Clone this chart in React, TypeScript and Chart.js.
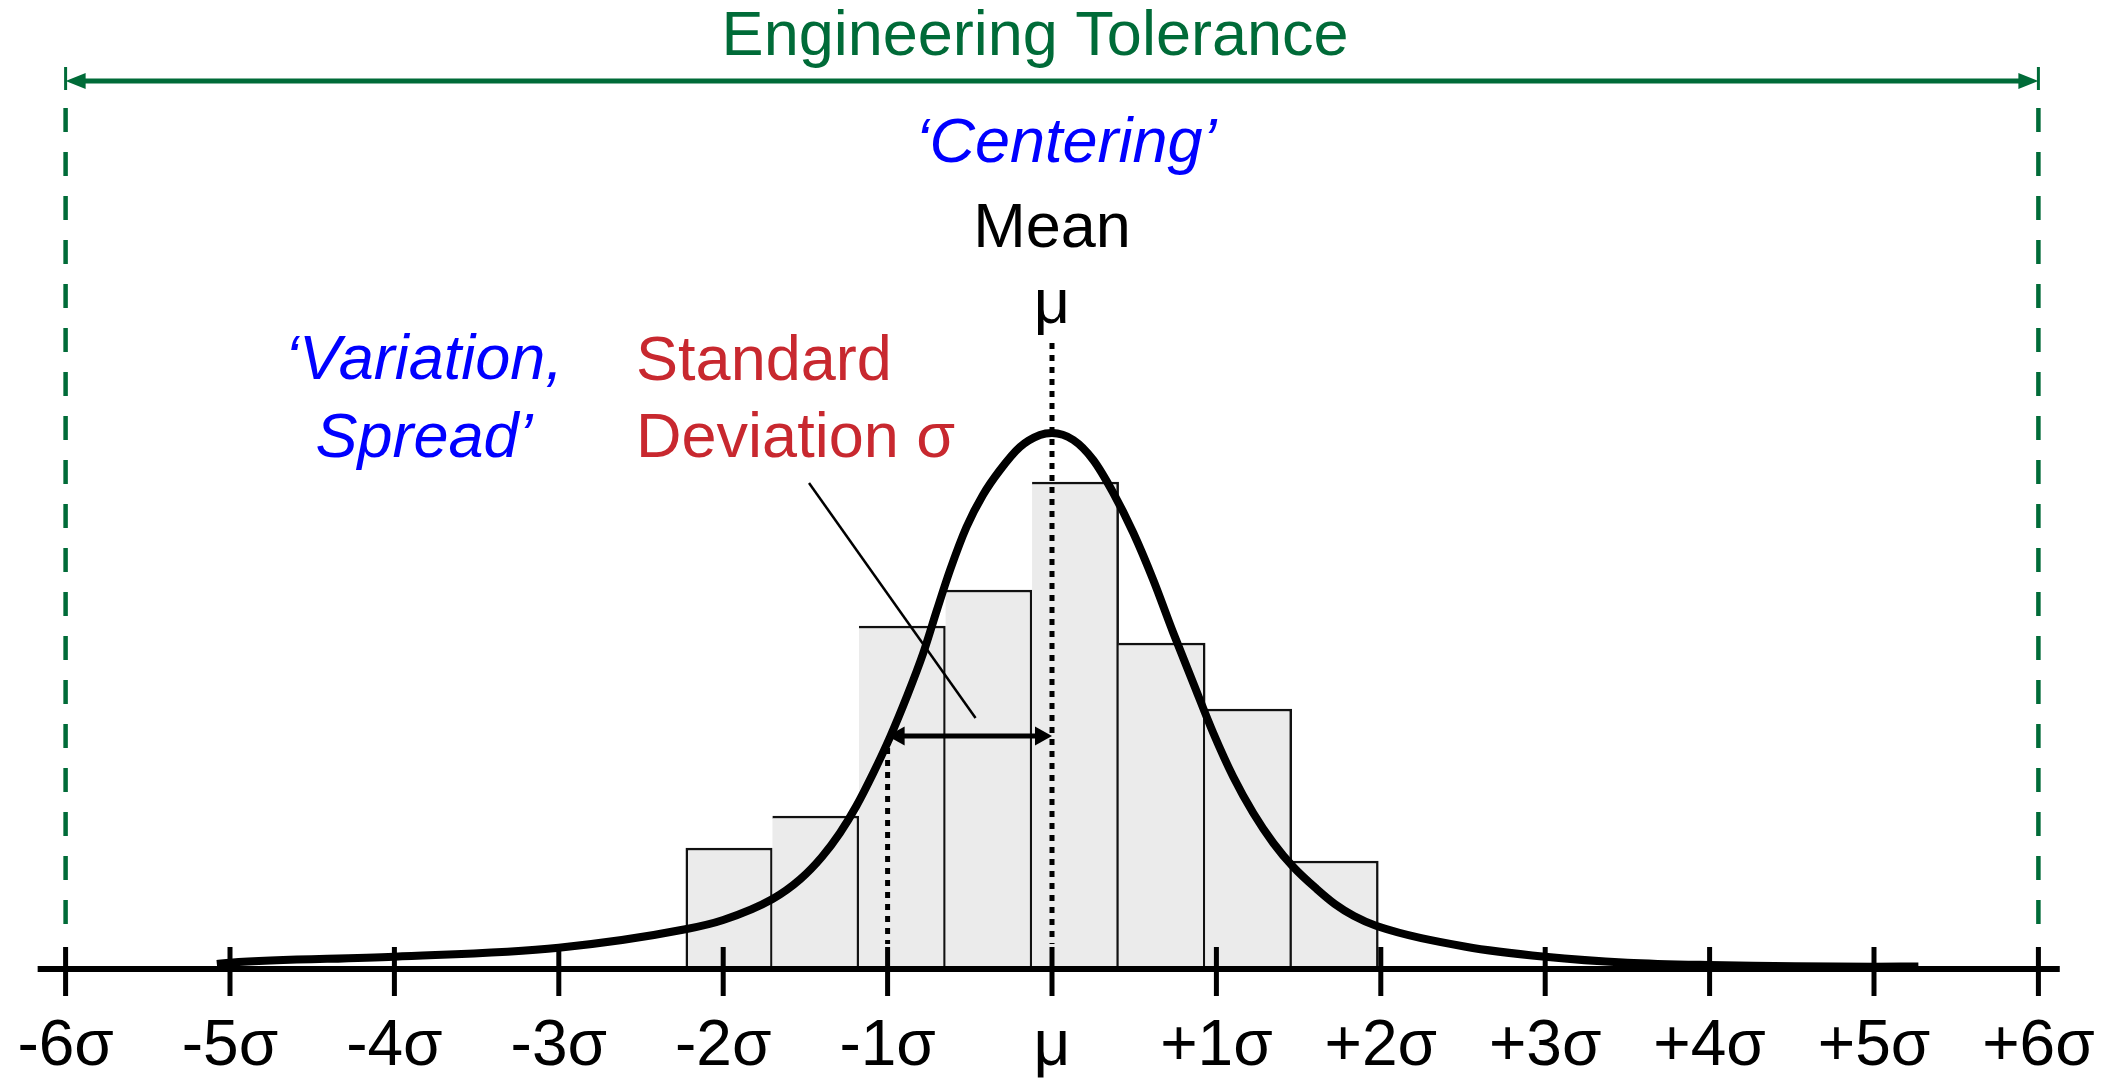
import React, { useEffect, useRef } from "react";
import { Chart, registerables } from "chart.js";

Chart.register(...registerables);

// ---- data (x in units of sigma, y in histogram counts) ----
const SIGMA_TICKS = [-6, -5, -4, -3, -2, -1, 0, 1, 2, 3, 4, 5, 6];
const BIN_CENTERS = [-1.964, -1.4375, -0.911, -0.3845, 0.142, 0.6685, 1.195, 1.7215];
const BIN_COUNTS = [12.1, 15.3, 34.3, 37.9, 48.7, 32.6, 26.0, 10.8];
const CURVE_X = [
  -5.08, -5.0, -4.0, -3.0, -2.23, -2.0, -1.7, -1.53, -1.4, -1.29, -1.19, -1.087, -0.985, -0.884,
  -0.783, -0.7, -0.62, -0.52, -0.42, -0.316, -0.195, -0.073, 0, 0.13, 0.251, 0.373, 0.495,
  0.616, 0.738, 0.859, 0.981, 1.103, 1.224, 1.346, 1.468, 1.61, 1.72, 1.837, 1.975, 2.517, 3.0,
  3.5, 4.0, 5.0, 5.27,
];
const CURVE_Y = [
  0.5, 0.63, 1.23, 2.13, 3.97, 4.9, 7.0, 9.0, 11.2, 13.6, 16.3, 19.6, 23.2, 27.2,
  31.6, 35.9, 39.9, 44.2, 47.4, 49.9, 52.2, 53.4, 53.6, 52.9, 50.9, 47.6, 43.6,
  38.9, 33.6, 28.6, 23.6, 19.2, 15.6, 12.6, 10.2, 8.0, 6.5, 5.3, 4.3, 2.23, 1.23,
  0.63, 0.4, 0.23, 0.25,
];
const TOLERANCE_LIMITS = [-6, 6];
const MEAN = 0;
const ONE_SIGMA = -1;

const FONT = "'Liberation Sans', Arial, Helvetica, sans-serif";
const GREEN = "#006B38";
const BLUE = "#0000FF";
const RED = "#C8282F";

const annotationPlugin = {
  id: "sixSigmaAnnotations",
  afterDatasetsDraw(chart: any) {
    const { ctx } = chart;
    const xs = chart.scales.x;
    const ys = chart.scales.y;
    const px = (v: number) => xs.getPixelForValue(v);
    const py = (v: number) => ys.getPixelForValue(v);

    const arrowHead = (tx: number, ty: number, dir: number, len: number, half: number, color: string) => {
      ctx.fillStyle = color;
      ctx.beginPath();
      ctx.moveTo(tx, ty);
      ctx.lineTo(tx - dir * len, ty - half);
      ctx.lineTo(tx - dir * len, ty + half);
      ctx.closePath();
      ctx.fill();
    };
    const line = (x1: number, y1: number, x2: number, y2: number, w: number, color: string, dash: number[] = []) => {
      ctx.save();
      ctx.strokeStyle = color;
      ctx.lineWidth = w;
      ctx.lineCap = "butt";
      ctx.setLineDash(dash);
      ctx.beginPath();
      ctx.moveTo(x1, y1);
      ctx.lineTo(x2, y2);
      ctx.stroke();
      ctx.restore();
    };
    const text = (s: string, xv: number, yv: number, align: CanvasTextAlign, font: string, color: string) => {
      ctx.save();
      ctx.font = font;
      ctx.fillStyle = color;
      ctx.textAlign = align;
      ctx.textBaseline = "alphabetic";
      ctx.fillText(s, px(xv), py(yv));
      ctx.restore();
    };

    ctx.save();

    // horizontal sigma axis with crossing tick marks
    const y0 = py(0);
    line(px(-6.17), y0, px(6.13), y0, 6, "#000");
    SIGMA_TICKS.forEach((t) => line(px(t), py(2.2), px(t), py(-2.7), 5, "#000"));

    // engineering tolerance limits (green dashed) and arrow
    TOLERANCE_LIMITS.forEach((t) => {
      line(px(t), py(86.1), px(t), py(3.9), 4.5, GREEN, [24, 20]);
      line(px(t), py(90.2), px(t), py(87.9), 3, GREEN);
    });
    const ay = py(88.8);
    line(px(TOLERANCE_LIMITS[0]) + 10, ay, px(TOLERANCE_LIMITS[1]) - 10, ay, 5, GREEN);
    arrowHead(px(TOLERANCE_LIMITS[0]), ay, -1, 20, 8, GREEN);
    arrowHead(px(TOLERANCE_LIMITS[1]), ay, 1, 20, 8, GREEN);

    // mean & one-sigma dotted lines
    line(px(MEAN), py(62.6), px(MEAN), py(2.5), 5, "#000", [6, 6]);
    line(px(ONE_SIGMA), py(22.1), px(ONE_SIGMA), py(2.5), 5, "#000", [6, 6]);

    // sigma double arrow
    const sy = py(23.3);
    line(px(ONE_SIGMA) + 8, sy, px(MEAN) - 8, sy, 5, "#000");
    arrowHead(px(ONE_SIGMA), sy, -1, 17, 9.5, "#000");
    arrowHead(px(MEAN), sy, 1, 17, 9.5, "#000");

    // leader line
    line(px(-1.478), py(48.6), px(-0.465), py(25.1), 2.5, "#000");

    // texts
    const reg = `63px ${FONT}`;
    const ita = `italic 63px ${FONT}`;
    text("Engineering Tolerance", -0.103, 91.4, "center", reg, GREEN);
    text("\u2018Centering\u2019", 0.085, 80.7, "center", ita, BLUE);
    text("Mean", 0, 72.2, "center", reg, "#000");
    text("\u03bc", 0, 64.6, "center", reg, "#000");
    text("Standard", -2.53, 58.9, "left", reg, RED);
    text("Deviation \u03c3", -2.53, 51.2, "left", reg, RED);
    text("\u2018Variation,", -3.82, 59.0, "center", ita, BLUE);
    text("Spread\u2019", -3.82, 51.2, "center", ita, BLUE);

    ctx.restore();
  },
};

export default function App() {
  const ref = useRef<HTMLCanvasElement>(null);
  useEffect(() => {
    document.body.style.margin = "0";
    const canvas = ref.current;
    if (!canvas) return;
    const chart = new Chart(canvas, {
      type: "bar",
      data: {
        datasets: [
          {
            type: "line",
            data: CURVE_X.map((x, i) => ({ x, y: CURVE_Y[i] })),
            borderColor: "#000",
            borderWidth: 8,
            pointRadius: 0,
            fill: false,
            cubicInterpolationMode: "monotone",
            borderJoinStyle: "round",
            order: 0,
          } as any,
          {
            type: "bar",
            data: BIN_CENTERS.map((x, i) => ({ x, y: BIN_COUNTS[i] })),
            backgroundColor: "#EBEBEB",
            borderColor: "#111",
            borderWidth: (c: any) => ({ top: 2.5, right: 2.5, bottom: 0, left: c.dataIndex === 0 ? 2.5 : 0 }),
            borderSkipped: "bottom",
            categoryPercentage: 1,
            barPercentage: 1,
            order: 1,
          } as any,
        ],
      },
      options: {
        responsive: false,
        devicePixelRatio: 1,
        animation: false,
        events: [],
        layout: { padding: { left: 16.28, right: 33.28, top: 0, bottom: 0 } },
        plugins: { legend: { display: false }, tooltip: { enabled: false } },
        scales: {
          x: {
            type: "linear",
            min: -6.3,
            max: 6.3,
            offset: false,
            grid: { display: false, drawTicks: false },
            border: { display: false },
            afterBuildTicks: (scale: any) => {
              scale.ticks = SIGMA_TICKS.map((v) => ({ value: v }));
            },
            ticks: {
              autoSkip: false,
              maxRotation: 0,
              minRotation: 0,
              padding: 2,
              color: "#000",
              font: { family: FONT, size: 64, lineHeight: 1 },
              callback: (v: any) => (v === 0 ? "\u03bc" : (v > 0 ? "+" : "") + v + "\u03c3"),
            },
          },
          y: {
            type: "linear",
            display: false,
            min: -4.4,
            max: 96.9,
          },
        },
      } as any,
      plugins: [annotationPlugin],
    });
    return () => chart.destroy();
  }, []);
  return (
    <div style={{ position: "absolute", left: 0, top: 0, width: 2121, height: 1081, background: "#fff" }}>
      <canvas ref={ref} width={2121} height={1081} style={{ display: "block", width: 2121, height: 1081 }} />
    </div>
  );
}
